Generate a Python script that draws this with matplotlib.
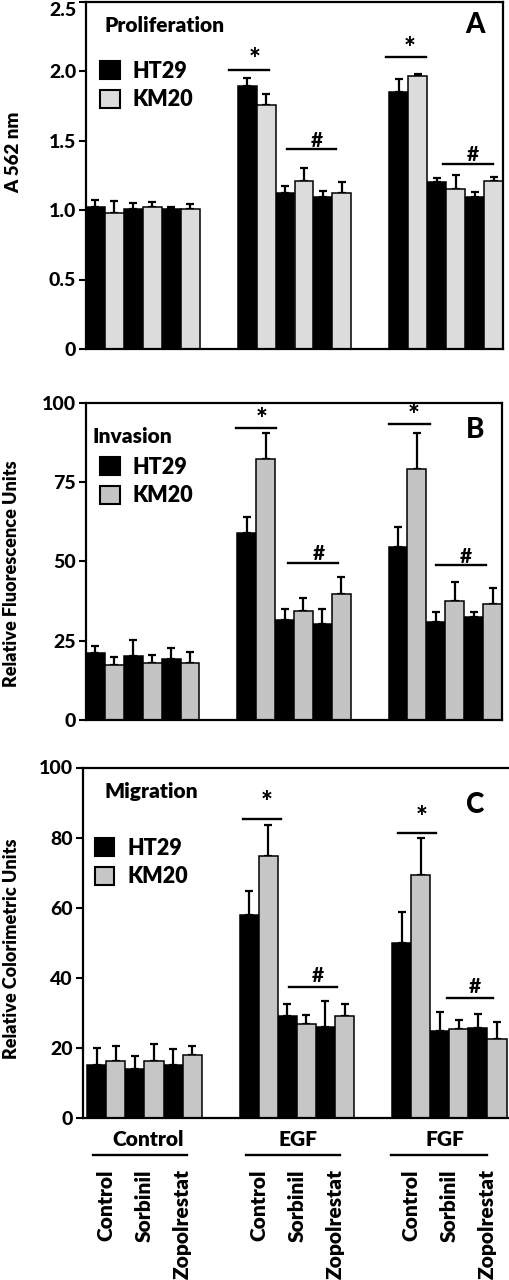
import matplotlib
matplotlib.use('Agg')
import matplotlib.pyplot as plt
import matplotlib.patches as mpatches
import numpy as np

plt.rcParams['font.family'] = 'Lato'
plt.rcParams['font.weight'] = 800

# bar order in each panel: (Control, EGF, FGF) x (Control, Sorbinil, Zopolrestat)
stimuli = ['Control', 'EGF', 'FGF']
treatments = ['Control', 'Sorbinil', 'Zopolrestat']

# Panel A - proliferation (A 562 nm)
prolif_ht29 = [1.02, 1.01, 1.01, 1.89, 1.12, 1.095, 1.85, 1.205, 1.09]
prolif_ht29_err = [0.05, 0.04, 0.01, 0.06, 0.05, 0.04, 0.09, 0.025, 0.04]
prolif_km20 = [0.975, 1.02, 1.01, 1.755, 1.21, 1.12, 1.965, 1.15, 1.21]
prolif_km20_err = [0.09, 0.04, 0.03, 0.08, 0.09, 0.08, 0.015, 0.10, 0.03]

# Panel B - invasion (relative fluorescence units)
inv_ht29 = [21.0, 20.2, 19.2, 58.8, 31.5, 30.1, 54.4, 31.0, 32.6]
inv_ht29_err = [2.3, 5.0, 3.6, 5.3, 3.4, 5.0, 6.5, 2.9, 1.4]
inv_km20 = [17.3, 17.9, 18.1, 82.4, 34.5, 39.7, 79.0, 37.6, 36.6]
inv_km20_err = [2.7, 2.6, 3.2, 8.2, 3.9, 5.3, 11.5, 6.0, 5.0]

# Panel C - migration (relative colorimetric units)
mig_ht29 = [15.0, 14.0, 15.0, 58.0, 29.0, 26.0, 49.9, 24.9, 25.8]
mig_ht29_err = [4.9, 3.8, 4.6, 6.8, 3.4, 7.4, 8.8, 5.4, 4.0]
mig_km20 = [16.3, 16.3, 18.0, 74.7, 26.8, 29.1, 69.4, 25.5, 22.6]
mig_km20_err = [4.3, 4.8, 2.4, 8.8, 2.5, 3.3, 10.4, 2.6, 4.7]

# significance marks: (symbol, x_start, x_end, line_y, text_x, text_y)
sig_A = [('*', 7.05, 9.16, 2.01, 8.37, 2.08), ('#', 10.09, 12.69, 1.437, 11.67, 1.50),
         ('*', 15.33, 17.44, 2.10, 16.6, 2.155), ('#', 18.36, 20.96, 1.33, 19.9, 1.40)]
sig_B = [('*', 7.45, 9.56, 92.1, 8.77, 94.6), ('#', 10.2, 12.85, 49.6, 11.8, 52.6),
         ('*', 15.5, 17.7, 93.2, 16.8, 95.7), ('#', 18.0, 20.65, 48.8, 19.6, 51.6)]
sig_C = [('*', 7.65, 9.66, 85.3, 8.9, 90.0), ('#', 10.1, 12.6, 37.4, 11.6, 40.6),
         ('*', 15.8, 17.8, 81.3, 17.05, 85.6), ('#', 18.4, 20.8, 34.2, 19.85, 37.6)]

W, H = 509, 1280
fig = plt.figure(figsize=(W / 100, H / 100), dpi=100, facecolor='white')


def ax_rect(left, right, top, bottom):
    return [left / W, 1 - bottom / H, (right - left) / W, (bottom - top) / H]


# bar positions: 3 groups of 6 bars, gap of 2 bars between groups
pos_ht29 = np.array([g * 8 + t * 2 for g in range(3) for t in range(3)], dtype=float)
pos_km20 = pos_ht29 + 1


def draw_panel(ax, ht, ht_err, km, km_err, gray, ylim, yticks, yticklabels,
               sigs, title, title_xy, letter, letter_xy, leg_xy, xlim):
    ax.bar(pos_ht29, ht, width=1.0, color='black', edgecolor='black', linewidth=1.1,
           zorder=2)
    ax.bar(pos_km20, km, width=1.0, color=gray, edgecolor='black', linewidth=1.1,
           zorder=2)
    ax.errorbar(pos_ht29, ht, yerr=[np.zeros(len(ht)), ht_err], fmt='none',
                ecolor='black', elinewidth=1.6, capsize=3.2, capthick=1.6, zorder=1)
    ax.errorbar(pos_km20, km, yerr=[np.zeros(len(km)), km_err], fmt='none',
                ecolor='black', elinewidth=1.6, capsize=3.2, capthick=1.6, zorder=1)
    for sym, x0, x1, ly, tx, ty in sigs:
        ax.plot([x0, x1], [ly, ly], color='black', lw=1.7)
        ax.text(tx, ty, sym, ha='center', va='center', fontweight=900,
                fontsize=20 if sym == '*' else 15)
    ax.set_xlim(*xlim)
    ax.set_ylim(*ylim)
    ax.set_yticks(yticks)
    ax.set_yticklabels(yticklabels, fontweight=900)
    ax.tick_params(axis='y', direction='out', length=5, width=1.5, labelsize=14, pad=2)
    ax.tick_params(axis='x', length=0)
    for s in ax.spines.values():
        s.set_linewidth(1.6)
    ax.text(title_xy[0], title_xy[1], title, transform=ax.transAxes, ha='left',
            va='center', fontsize=15, fontweight=800)
    ax.text(letter_xy[0], letter_xy[1], letter, transform=ax.transAxes, ha='center',
            va='center', fontsize=20, fontweight=900)
    handles = [mpatches.Patch(facecolor='black', edgecolor='black', linewidth=1.5, label='HT29'),
               mpatches.Patch(facecolor=gray, edgecolor='black', linewidth=1.5, label='KM20')]
    ax.legend(handles=handles, loc='upper left', bbox_to_anchor=leg_xy, frameon=False,
              handlelength=0.9, handleheight=0.9, handletextpad=0.6,
              labelspacing=0.35, borderpad=0, borderaxespad=0,
              prop={'family': 'Lato', 'weight': 800, 'size': 15.5})


axA = fig.add_axes(ax_rect(86, 503, 1.5, 349))
draw_panel(axA, prolif_ht29, prolif_ht29_err, prolif_km20, prolif_km20_err, '#dcdcdc',
           (0, 2.5), [0, 0.5, 1.0, 1.5, 2.0, 2.5], ['0', '0.5', '1.0', '1.5', '2.0', '2.5'],
           sig_A, 'Proliferation', (0.045, 0.932), 'A', (0.933, 0.932), (0.034, 0.83),
           (-0.5, 21.5))
axA.get_yticklabels()[-1].set_verticalalignment('top')
axA.set_xticks([])

axB = fig.add_axes(ax_rect(86, 502, 402.7, 720))
draw_panel(axB, inv_ht29, inv_ht29_err, inv_km20, inv_km20_err, '#c4c4c4',
           (0, 100), [0, 25, 50, 75, 100], ['0', '25', '50', '75', '100'],
           sig_B, 'Invasion', (0.016, 0.895), 'B', (0.935, 0.914), (0.034, 0.83),
           (-0.5, 21.5))
axB.set_xticks([])

axC = fig.add_axes(ax_rect(82.7, 509, 767.5, 1118))
draw_panel(axC, mig_ht29, mig_ht29_err, mig_km20, mig_km20_err, '#c6c6c6',
           (0, 100), [0, 20, 40, 60, 80, 100], ['0', '20', '40', '60', '80', '100'],
           sig_C, 'Migration', (0.05, 0.931), 'C', (0.92, 0.892), (0.029, 0.80),
           (-0.74, 21.63))
axC.spines['right'].set_visible(False)

# treatment labels under panel C
tick_pos = (pos_ht29 + pos_km20) / 2
axC.set_xticks(tick_pos)
axC.set_xticklabels(treatments * 3, rotation=90, fontsize=15, fontweight=800)
axC.tick_params(axis='x', length=0, pad=37)

# stimulus group labels with lines
grp_label_x = [2.67, 10.54, 18.27]
grp_line = [(-0.22, 4.72), (7.83, 12.76), (15.43, 20.45)]
tr = axC.get_xaxis_transform()
for name, gx, (l0, l1) in zip(stimuli, grp_label_x, grp_line):
    axC.text(gx, -0.061, name, transform=tr, ha='center', va='center',
             fontsize=15, fontweight=800)
    axC.plot([l0, l1], [-0.1056, -0.1056], transform=tr, color='black', lw=1.7,
             clip_on=False)

# y axis labels
fig.text(14 / W, 1 - 152 / H, 'A 562 nm', rotation=90, ha='center', va='center',
         fontsize=13.5, fontweight=800)
fig.text(12 / W, 1 - 574 / H, 'Relative Fluorescence Units', rotation=90, ha='center',
         va='center', fontsize=13, fontweight=800)
fig.text(12 / W, 1 - 949 / H, 'Relative Colorimetric Units', rotation=90, ha='center',
         va='center', fontsize=13, fontweight=800)

fig.savefig('out.png', dpi=100, facecolor='white')
